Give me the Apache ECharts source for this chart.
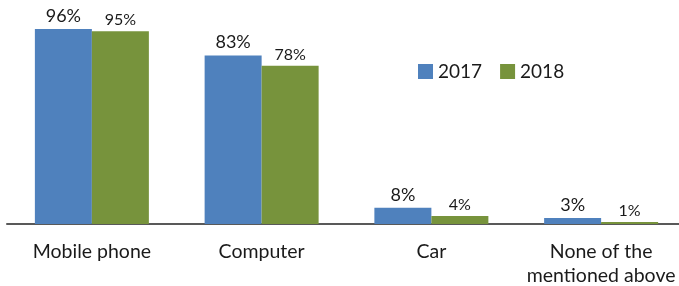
<!DOCTYPE html>
<html>
<head>
<meta charset="utf-8">
<script src="https://cdn.jsdelivr.net/npm/echarts@6/dist/echarts.min.js"></script>
<style>
  html, body { margin: 0; padding: 0; background: #fff; }
  #chart { width: 679px; height: 286px; }
</style>
</head>
<body>
<div id="chart"></div>
<script>
// данные с картинки
const categories = ['Mobile phone', 'Computer', 'Car', 'None of the\nmentioned above'];
const values2017 = [96, 83, 8, 3];
const values2018 = [95, 78, 4, 1];
const seriesNames = ['2017', '2018'];

const COLORS = { '2017': '#4F81BD', '2018': '#77933C' };
const FONT = 'Lato';

const chart = echarts.init(document.getElementById('chart'));

const option = {
  animation: false,
  textStyle: { fontFamily: FONT },
  grid: {
    left: 7,
    width: 679,
    top: 21,
    bottom: 62,
    outerBoundsMode: 'none',
    containLabel: false
  },
  legend: {
    left: 413,
    top: 57,
    itemWidth: 15,
    itemHeight: 15,
    itemGap: 18,
    icon: 'rect',
    textStyle: { fontSize: 19, color: '#1a1a1a', fontFamily: FONT },
    data: seriesNames
  },
  xAxis: {
    type: 'category',
    data: categories,
    axisLine: { lineStyle: { color: '#595959', width: 2 } },
    axisTick: { show: false },
    axisLabel: {
      fontSize: 19.5,
      color: '#1a1a1a',
      margin: 16,
      lineHeight: 24,
      interval: 0
    }
  },
  yAxis: {
    type: 'value',
    min: 0,
    max: 100,
    show: false
  },
  series: [
    {
      name: '2017',
      type: 'bar',
      data: values2017,
      barWidth: 57,
      barGap: '0%',
      itemStyle: { color: COLORS['2017'] },
      label: {
        show: true,
        position: 'top',
        distance: 4,
        formatter: '{c}%',
        fontSize: 18,
        color: '#1a1a1a'
      }
    },
    {
      name: '2018',
      type: 'bar',
      data: values2018,
      barWidth: 57,
      barGap: '0%',
      itemStyle: { color: COLORS['2018'] },
      label: {
        show: true,
        position: 'top',
        distance: 3,
        formatter: '{c}%',
        fontSize: 16,
        color: '#1a1a1a'
      }
    }
  ]
};

chart.setOption(option);
</script>
</body>
</html>
